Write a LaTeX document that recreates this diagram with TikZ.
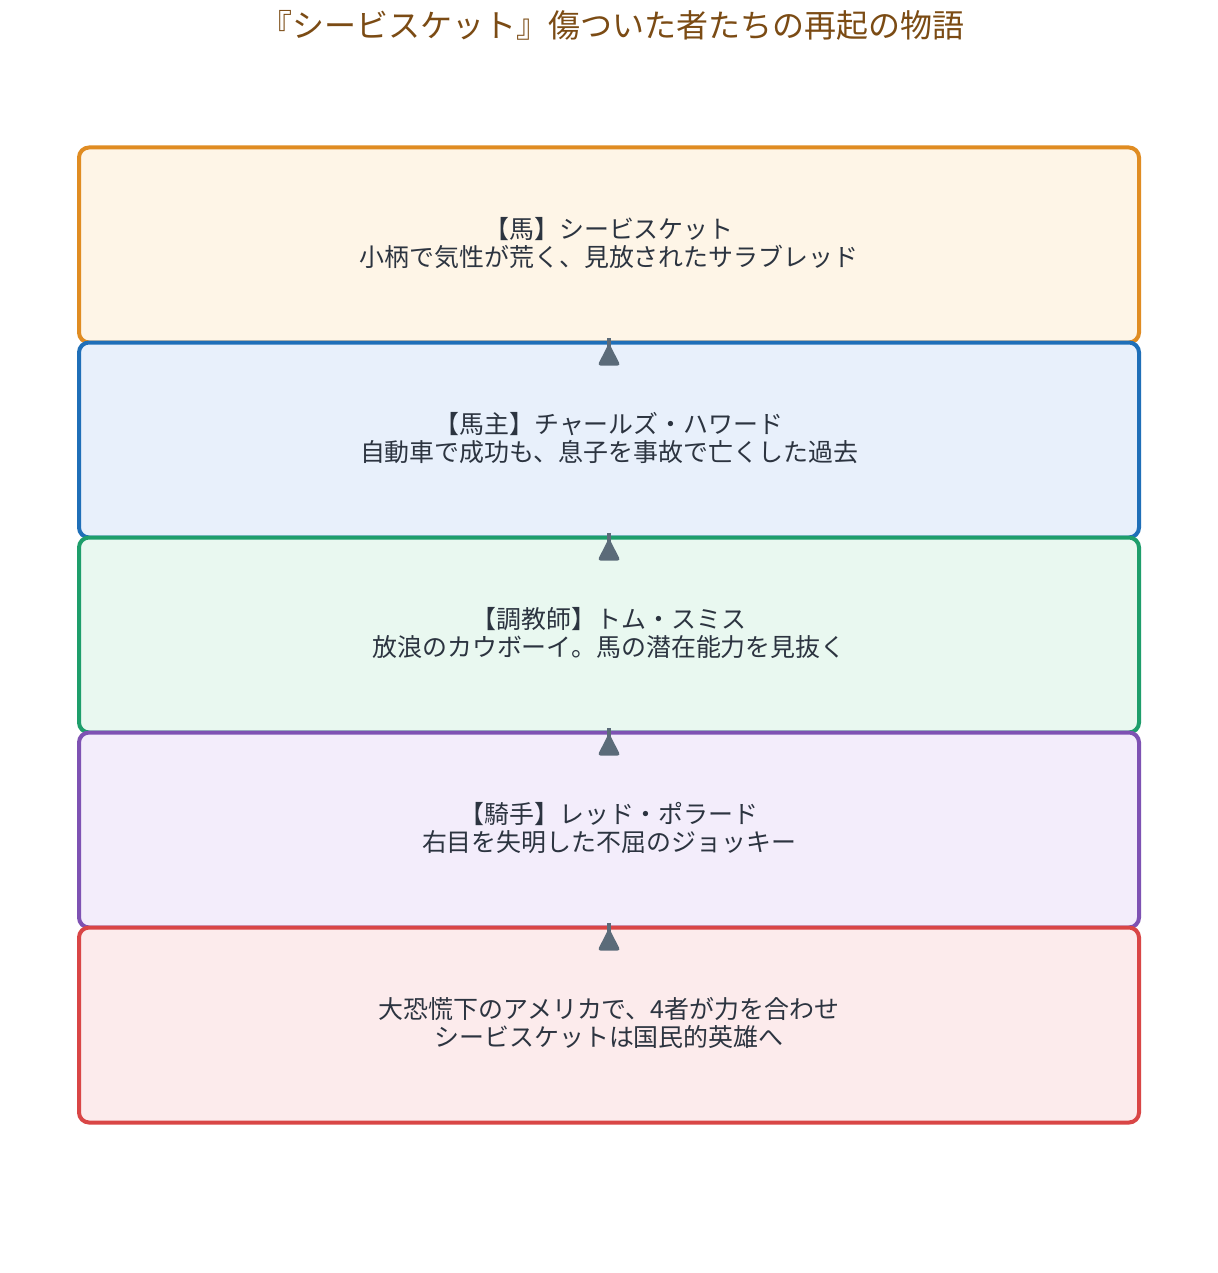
\documentclass[tikz,border=0pt]{standalone}
\usepackage{fontspec}
\setmainfont{Noto Sans CJK JP}
\definecolor{ttl}{HTML}{7B4B14}
\definecolor{txt}{HTML}{2C3440}
\definecolor{arr}{HTML}{5B6B79}
\definecolor{bOr}{HTML}{E08C22}\definecolor{fOr}{HTML}{FEF5E7}
\definecolor{bBl}{HTML}{1F6FB8}\definecolor{fBl}{HTML}{E8F0FB}
\definecolor{bGr}{HTML}{1E9E6B}\definecolor{fGr}{HTML}{E9F8F0}
\definecolor{bPu}{HTML}{7E52B3}\definecolor{fPu}{HTML}{F3EDFB}
\definecolor{bRe}{HTML}{D94646}\definecolor{fRe}{HTML}{FCEBEC}
\tikzset{
  card/.style={draw=#1, line width=3pt, rounded corners=7.5pt,
    minimum width=795pt, minimum height=146.25pt, inner sep=0pt,
    align=center, text=txt, font=\fontsize{18.7pt}{20.5pt}\selectfont,
    text depth=4.5pt},
  stem/.style={draw=arr, line width=3.4pt},
  headtri/.style={fill=arr, rounded corners=2.2pt}
}
\newcommand{\uparrowfromto}[2]{%
  \draw[stem] ([yshift=-14pt]#1.north) -- ([yshift=4.9pt]#2.south);
  \fill[headtri] ([yshift=1.1pt]#2.south) -- ++(-11.5,-22.5) -- ++(23,0) -- cycle;}
\begin{document}
\begin{tikzpicture}[x=0.75pt, y=0.75pt]
\useasboundingbox[fill=white] (0,0) rectangle (1217,-1273);
\node[text=ttl, font=\fontsize{24pt}{26pt}\selectfont] (title) at (612,-25) {『シービスケット』傷ついた者たちの再起の物語};
\node[card=bOr, fill=fOr] (b1) at (609,-245) {【馬】シービスケット\\小柄で気性が荒く、見放されたサラブレッド};
\node[card=bBl, fill=fBl] (b2) at (609,-440) {【馬主】チャールズ・ハワード\\自動車で成功も、息子を事故で亡くした過去};
\node[card=bGr, fill=fGr] (b3) at (609,-635) {【調教師】トム・スミス\\放浪のカウボーイ。馬の潜在能力を見抜く};
\node[card=bPu, fill=fPu] (b4) at (609,-830) {【騎手】レッド・ポラード\\右目を失明した不屈のジョッキー};
\node[card=bRe, fill=fRe] (b5) at (609,-1025) {大恐慌下のアメリカで、4者が力を合わせ\\シービスケットは国民的英雄へ};
\uparrowfromto{b2}{b1}
\uparrowfromto{b3}{b2}
\uparrowfromto{b4}{b3}
\uparrowfromto{b5}{b4}
\end{tikzpicture}
\end{document}
